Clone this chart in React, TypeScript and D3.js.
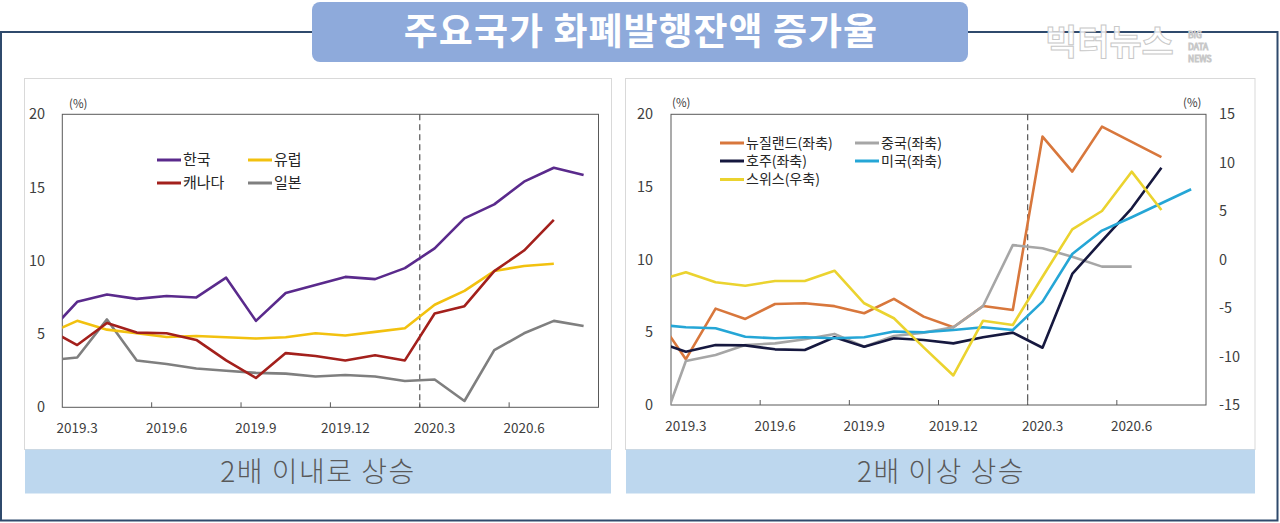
import React from 'react';
import * as d3 from 'd3';

// ---- data ----
const months = ['2019.2','2019.3','2019.4','2019.5','2019.6','2019.7','2019.8','2019.9','2019.10','2019.11','2019.12','2020.1','2020.2','2020.3','2020.4','2020.5','2020.6','2020.7','2020.8'];
const xTickLabels = ['2019.3','2019.6','2019.9','2019.12','2020.3','2020.6'];
const leftTicks = [0, 5, 10, 15, 20];
const rightTicks = [-15, -10, -5, 0, 5, 10, 15];

const korea   = [5.0, 7.2, 7.7, 7.4, 7.6, 7.5, 8.85, 5.9, 7.8, 8.35, 8.9, 8.75, 9.5, 10.85, 12.9, 13.85, 15.4, 16.35, 15.85];
const europe  = [5.0, 5.9, 5.3, 5.05, 4.8, 4.87, 4.78, 4.7, 4.78, 5.05, 4.9, 5.15, 5.4, 7.0, 7.95, 9.3, 9.65, 9.8, null];
const canada  = [5.35, 4.25, 5.75, 5.1, 5.05, 4.6, 3.2, 2.0, 3.7, 3.5, 3.2, 3.55, 3.2, 6.4, 6.9, 9.3, 10.7, 12.8, null];
const japan   = [3.2, 3.4, 6.0, 3.2, 2.95, 2.65, 2.5, 2.35, 2.3, 2.1, 2.2, 2.1, 1.8, 1.9, 0.43, 3.9, 5.05, 5.9, 5.55];

const newZealand  = [6.13, 3.15, 6.63, 5.92, 6.95, 7.0, 6.8, 6.31, 7.3, 6.08, 5.35, 6.81, 6.54, 18.47, 16.06, 19.15, 18.1, 17.05, null];
const china       = [-2.63, 3.03, 3.44, 4.13, 4.24, 4.52, 4.89, 4.01, 4.75, 4.98, 5.35, 6.81, 11.0, 10.78, 10.2, 9.52, 9.52, null, null];
const australia   = [4.35, 3.67, 4.13, 4.1, 3.83, 3.78, 4.66, 4.01, 4.59, 4.47, 4.24, 4.66, 4.98, 3.94, 9.02, 11.29, 13.53, 16.33, null];
const usa         = [5.53, 5.35, 5.28, 4.7, 4.59, 4.66, 4.59, 4.66, 5.05, 5.0, 5.16, 5.35, 5.16, 7.11, 10.39, 12.0, 12.92, 13.88, 14.84];
const switzerland = [-2.21, -1.31, -2.34, -2.69, -2.2, -2.2, -1.14, -4.5, -6.05, -9.05, -11.95, -6.3, -6.74, -1.76, 3.13, 5.02, 9.08, 5.12, null];

const FONT = "'Noto Sans CJK KR', 'Noto Sans', sans-serif";

type Series = { name: string; values: (number | null)[]; color: string; axis: 'left' | 'right'; legend: [number, number] };

type ChartProps = {
  id: string;
  x0: number; x1: number; y0: number; y1: number;
  series: Series[];
  rightAxis: boolean;
  leftLabelX: number;
  rightLabelX?: number;
  pctLeft: [number, number];
  pctRight?: [number, number];
  legendFont: number;
};

function Chart(p: ChartProps) {
  const x = d3.scaleLinear().domain([0.5, months.length - 0.5]).range([p.x0, p.x1]);
  const yL = d3.scaleLinear().domain([0, 20]).range([p.y1, p.y0]);
  const yR = d3.scaleLinear().domain([-15, 15]).range([p.y1, p.y0]);
  const boundaries = [3.5, 6.5, 9.5, 12.5, 15.5];
  const dashAt = months.indexOf('2020.3') - 0.5;
  return (
    <g>
      <defs>
        <clipPath id={p.id}>
          <rect x={p.x0} y={p.y0 - 2} width={p.x1 - p.x0} height={p.y1 - p.y0 + 2} />
        </clipPath>
      </defs>
      <rect x={p.x0} y={p.y0} width={p.x1 - p.x0} height={p.y1 - p.y0} fill="none" stroke="#595959" strokeWidth={1} />
      {boundaries.map((b) => (
        <line key={b} x1={x(b)} x2={x(b)} y1={p.y1} y2={p.y1 - 5} stroke="#595959" strokeWidth={1} />
      ))}
      <line x1={x(dashAt)} x2={x(dashAt)} y1={p.y0} y2={p.y1} stroke="#555" strokeWidth={1.2} strokeDasharray="6,4" />
      {leftTicks.map((t) => (
        <text key={'l' + t} x={p.leftLabelX} y={yL(t)} dy="0.35em" textAnchor="end" fontSize={14.5} fill="#404040" fontFamily={FONT}>{t}</text>
      ))}
      {p.rightAxis && rightTicks.map((t) => (
        <text key={'r' + t} x={p.rightLabelX} y={yR(t)} dy="0.35em" textAnchor="start" fontSize={14.5} fill="#404040" fontFamily={FONT}>{t}</text>
      ))}
      {xTickLabels.map((l) => (
        <text key={l} x={x(months.indexOf(l))} y={p.y1 + 21} dy="0.35em" textAnchor="middle" fontSize={13.5} fill="#404040" fontFamily={FONT}>{l}</text>
      ))}
      <text x={p.pctLeft[0]} y={p.pctLeft[1]} fontSize={11.5} fill="#404040" fontFamily={FONT} dy="0.35em">(%)</text>
      {p.pctRight && <text x={p.pctRight[0]} y={p.pctRight[1]} fontSize={11.5} fill="#404040" fontFamily={FONT} dy="0.35em">(%)</text>}
      <g clipPath={`url(#${p.id})`}>
        {p.series.map((s) => {
          const ys = s.axis === 'left' ? yL : yR;
          const line = d3.line<number | null>()
            .defined((d) => d != null)
            .x((_, i) => x(i))
            .y((d) => ys(d as number));
          return <path key={s.name} d={line(s.values) || ''} fill="none" stroke={s.color} strokeWidth={2.6} strokeLinejoin="round" />;
        })}
      </g>
      {p.series.map((s) => (
        <g key={'lg' + s.name}>
          <line x1={s.legend[0]} x2={s.legend[0] + 24} y1={s.legend[1]} y2={s.legend[1]} stroke={s.color} strokeWidth={3} />
          <text x={s.legend[0] + 26} y={s.legend[1]} dy="0.35em" fontSize={p.legendFont} fill="#262626" fontFamily={FONT}>{s.name}</text>
        </g>
      ))}
    </g>
  );
}

export default function App() {
  const leftSeries: Series[] = [
    { name: '일본', values: japan, color: '#7f7f7f', axis: 'left', legend: [157, 183] },
    { name: '유럽', values: europe, color: '#f2c10f', axis: 'left', legend: [248, 160] },
    { name: '캐나다', values: canada, color: '#a3201c', axis: 'left', legend: [157, 183] },
    { name: '한국', values: korea, color: '#5a2a8c', axis: 'left', legend: [157, 160] },
  ];
  leftSeries[0].legend = [248, 183];
  const rightSeries: Series[] = [
    { name: '뉴질랜드(좌축)', values: newZealand, color: '#d8773c', axis: 'left', legend: [720, 143] },
    { name: '중국(좌축)', values: china, color: '#a6a6a6', axis: 'left', legend: [855, 143] },
    { name: '호주(좌축)', values: australia, color: '#16183f', axis: 'left', legend: [720, 161] },
    { name: '미국(좌축)', values: usa, color: '#25a6d6', axis: 'left', legend: [855, 161] },
    { name: '스위스(우축)', values: switzerland, color: '#ebd32f', axis: 'right', legend: [720, 179.5] },
  ];
  return (
    <svg width={1280} height={523} style={{ position: 'absolute', left: 0, top: 0, background: '#fff' }}>
      <rect x={0} y={0} width={1280} height={523} fill="#fff" />
      <rect x={1} y={32} width={1276.5} height={488.5} fill="none" stroke="#2f4a6c" strokeWidth={2} />
      {/* watermark */}
      <g fontFamily={FONT} fill="#ffffff" fillOpacity={0.85} stroke="#c8c8c8" strokeWidth={1}>
        <text x={1045} y={43} dy="0.35em" fontSize={35} fontWeight={700}>빅터뉴스</text>
        <text x={1188} y={35} dy="0.35em" fontSize={8.5}>BIG</text>
        <text x={1188} y={47} dy="0.35em" fontSize={8.5}>DATA</text>
        <text x={1188} y={59} dy="0.35em" fontSize={8.5}>NEWS</text>
      </g>
      {/* title */}
      <rect x={312} y={2} width={656} height={60} rx={8} fill="#8eaadb" />
      <text x={641} y={32} dy="0.36em" textAnchor="middle" fontSize={37} letterSpacing={1} fontWeight={700} fill="#fff" fontFamily={FONT}>주요국가 화폐발행잔액 증가율</text>
      {/* panels */}
      <rect x={24.5} y={78.5} width={587} height={371} fill="#fff" stroke="#d9d9d9" />
      <rect x={625.5} y={78.5} width={629.5} height={371} fill="#fff" stroke="#d9d9d9" />
      <rect x={25} y={449.5} width={586} height={44} fill="#bdd7ee" />
      <rect x={626} y={449.5} width={629} height={44} fill="#bdd7ee" />
      <text x={318} y={472} dy="0.36em" textAnchor="middle" fontSize={28} letterSpacing={1.5} fontWeight={300} fill="#595959" fontFamily={FONT}>2배 이내로 상승</text>
      <text x={941} y={472} dy="0.36em" textAnchor="middle" fontSize={28} letterSpacing={1.5} fontWeight={300} fill="#595959" fontFamily={FONT}>2배 이상 상승</text>
      <Chart id="clipL" x0={62.3} x1={598.5} y0={114.3} y1={407.3} series={leftSeries} rightAxis={false}
        leftLabelX={45} pctLeft={[69, 104]} legendFont={15} />
      <Chart id="clipR" x0={671} x1={1206} y0={114.3} y1={405} series={rightSeries} rightAxis={true}
        leftLabelX={653} rightLabelX={1219} pctLeft={[672, 103]} pctRight={[1183, 103]} legendFont={14} />
    </svg>
  );
}
